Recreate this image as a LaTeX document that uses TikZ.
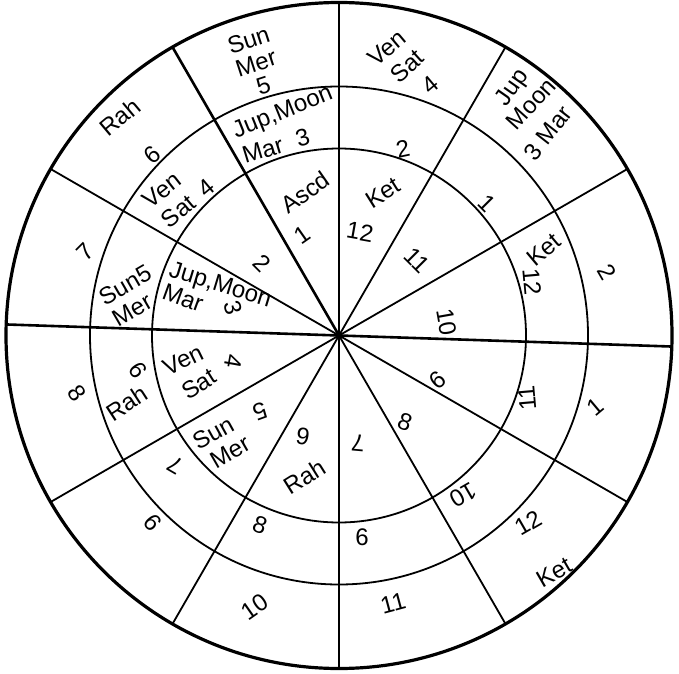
\documentclass[tikz,border=0pt]{standalone}
\usepackage{fontspec}
\setmainfont{Liberation Sans}
\begin{document}
\begin{tikzpicture}[x=1pt,y=1pt,
  lbl/.style={font=\fontsize{24}{24}\selectfont, inner sep=0pt, align=center},
  ring/.style={line width=1.8pt},
  rim/.style={line width=3.2pt},
  spoke/.style={line width=1.8pt},
  mainspoke/.style={line width=2.6pt}]
\fill[white] (0,0) rectangle (679,673);
\useasboundingbox (0,0) rectangle (679,673);
\coordinate (C) at (339,337.5);
% circles
\draw[rim] (C) circle[radius=333];
\draw[ring] (C) circle[radius=249];
\draw[ring] (C) circle[radius=187];
% spoke ends
\foreach \a/\n in {90/a,120/b,150/c,178.1/d,210/e,240/f,270/g,300/h,330/i,-1.9/j,30/k,60/l}
  \path (C) ++(\a:333) coordinate (e\n);
\draw[mainspoke] (C) -- (ea);
\draw[mainspoke] (C) -- (eb);
\draw[spoke] (C) -- (ec);
\draw[mainspoke] (C) -- (ed);
\draw[spoke] (C) -- (ee);
\draw[spoke] (C) -- (ef);
\draw[spoke] (C) -- (eg);
\draw[spoke] (C) -- (eh);
\draw[spoke] (C) -- (ei);
\draw[mainspoke] (C) -- (ej);
\draw[spoke] (C) -- (ek);
\draw[spoke] (C) -- (el);
% outer ring
\node[lbl,rotate=18] (o5) at (256,610) {Sun\\Mer\\5};
\node[lbl,rotate=40] (o4a) at (387,625) {Ven};
\node[lbl,rotate=42] (o4b) at (407,607) {Sat};
\node[lbl,rotate=40] (o4c) at (430,588) {4};
\node[lbl,rotate=55] (o3a) at (513,585) {Jup};
\node[lbl,rotate=48] (o3b) at (531,569) {Moon};
\node[lbl,rotate=52] (o3c) at (548,540) {3 Mar};
\node[lbl,rotate=-60] (o2) at (607,401) {2};
\node[lbl,rotate=40] (o1) at (595,266) {1};
\node[lbl,rotate=30] (o12) at (528,150) {12};
\node[lbl,rotate=30] (o12b) at (554,101) {Ket};
\node[lbl,rotate=15] (o11) at (393,70) {11};
\node[lbl,rotate=35] (o10) at (255,66) {10};
\node[lbl,rotate=130] (o9) at (153,150) {9};
\node[lbl,rotate=-55] (o8) at (77,280) {8};
\node[lbl,rotate=45] (o7) at (85,421) {7};
\node[lbl,rotate=40] (o6a) at (120,556) {Rah};
\node[lbl,rotate=40] (o6b) at (152,518) {6};
% middle ring
\node[lbl,rotate=22] (m3a) at (283,560) {Jup,Moon};
\node[lbl,rotate=17] (m3b) at (276,527) {Mar\hspace{0.6em}3};
\node[lbl,rotate=12] (m2) at (403,524) {2};
\node[lbl,rotate=-45] (m1) at (487,470) {1};
\node[lbl,rotate=40] (m12a) at (544,423) {Ket};
\node[lbl,rotate=-85] (m12b) at (532,391) {12};
\node[lbl,rotate=95] (m11) at (527,275) {11};
\node[lbl,rotate=-150] (m10) at (463,178) {10};
\node[lbl] (m9) at (362,136) {6};
\node[lbl,rotate=-20] (m8) at (260,148) {8};
\node[lbl,rotate=150] (m7) at (175,208) {7};
\node[lbl,rotate=-55] (m6a) at (138,303) {6};
\node[lbl,rotate=33] (m6b) at (127,270) {Rah};
\node[lbl,rotate=30] (m5a) at (125,388) {Sun5};
\node[lbl,rotate=30] (m5b) at (132,363) {Mer};
\node[lbl,rotate=38] (m4a) at (162,483) {Ven};
\node[lbl,rotate=40] (m4b) at (188,470) {Sat\enspace 4};
% inner ring
\node[lbl,rotate=35] (i1a) at (305,481) {Ascd};
\node[lbl,rotate=35] (i1b) at (302,438) {1};
\node[lbl,rotate=-45] (i2) at (262,410) {2};
\node[lbl,rotate=-17] (i3a) at (220,387) {Jup,Moon};
\node[lbl,rotate=-20] (i3b) at (183,375) {Mar};
\node[lbl,rotate=-75] (i3c) at (233,365) {3};
\node[lbl,rotate=26] (i4a) at (183,313) {Ven};
\node[lbl,rotate=32] (i4b) at (199,289) {Sat};
\node[lbl,rotate=-100] (i4c) at (233,311) {4};
\node[lbl,rotate=29] (i5a) at (213,240) {Sun};
\node[lbl,rotate=30] (i5b) at (230,221) {Mer};
\node[lbl,rotate=-160] (i5c) at (260,262) {5};
\node[lbl,rotate=-10] (i6a) at (303,236) {9};
\node[lbl,rotate=32] (i6b) at (305,196) {Rah};
\node[lbl,rotate=175] (i7) at (358,230) {7};
\node[lbl,rotate=-20] (i8) at (405,251) {8};
\node[lbl,rotate=-140] (i9) at (438,293) {9};
\node[lbl,rotate=-80] (i10) at (447,351) {10};
\node[lbl,rotate=-45] (i11) at (417,413) {11};
\node[lbl,rotate=32] (i12a) at (383,480) {Ket};
\node[lbl,rotate=-10] (i12b) at (360,441) {12};
\end{tikzpicture}
\end{document}
